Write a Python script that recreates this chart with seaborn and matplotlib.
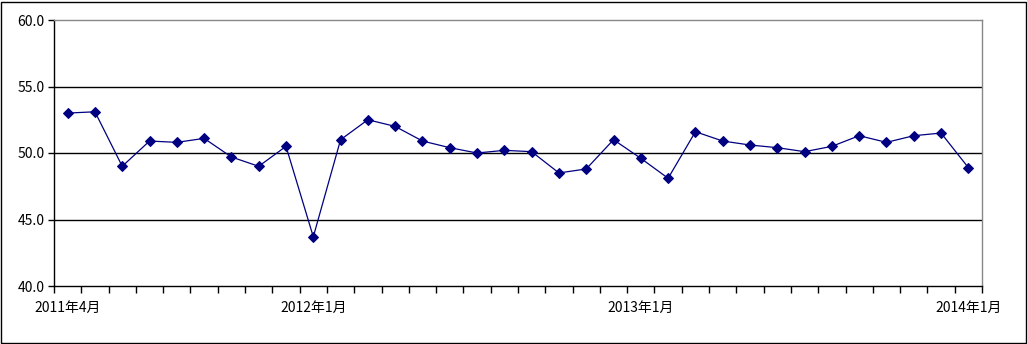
import numpy as np
import pandas as pd
import matplotlib
matplotlib.use("Agg")
import matplotlib.pyplot as plt
import seaborn as sns
from matplotlib.patches import Rectangle

# ---- data ----
months = (
    [f"2011年{m}月" for m in range(4, 13)]
    + [f"2012年{m}月" for m in range(1, 13)]
    + [f"2013年{m}月" for m in range(1, 13)]
    + ["2014年1月"]
)
values = [53.0, 53.1, 49.0, 50.9, 50.8, 51.1, 49.7, 49.0, 50.5,
          43.7, 51.0, 52.5, 52.0, 50.9, 50.4, 50.0, 50.2, 50.1, 48.5, 48.8, 51.0,
          49.6, 48.1, 51.6, 50.9, 50.6, 50.4, 50.1, 50.5, 51.3, 50.8, 51.3, 51.5,
          48.9]
shown_labels = ["2011年4月", "2012年1月", "2013年1月", "2014年1月"]
y_ticks = [40, 45, 50, 55, 60]

df = pd.DataFrame({"month": months, "value": values})
df["pos"] = np.arange(len(df))

sns.set_theme(style="white")
plt.rcParams["font.family"] = ["Noto Sans CJK SC", "DejaVu Sans"]

fig = plt.figure(figsize=(10.27, 3.44), dpi=100)
ax = fig.add_axes([54 / 1027, 1 - 286 / 344, (982 - 54) / 1027, (286 - 20) / 344])

for y in y_ticks[1:-1]:
    ax.axhline(y, color="black", lw=1.0, zorder=1)

sns.lineplot(data=df, x="pos", y="value", ax=ax, color="#000080", lw=0.9,
             marker="D", markersize=5, markeredgecolor="#000080", zorder=3)

ax.set_xlim(-0.5, len(df) - 0.5)
ax.set_ylim(40, 60)
ax.set_yticks(y_ticks)
ax.set_yticklabels([f"{v:.1f}" for v in y_ticks])

label_pos = [months.index(l) for l in shown_labels]
ax.set_xticks(label_pos)
ax.set_xticklabels(shown_labels)
ax.set_xticks(np.arange(-0.5, len(df)), minor=True)
ax.tick_params(axis="x", which="major", length=0, pad=11, labelsize=10, colors="black")
ax.tick_params(axis="x", which="minor", length=5, width=1, color="black", direction="out", bottom=True)
ax.tick_params(axis="y", which="major", length=4, width=1, color="black", direction="out",
               left=True, pad=3, labelsize=10, labelcolor="black")
ax.set_xlabel("")
ax.set_ylabel("")
ax.grid(False)

for side in ["left", "bottom"]:
    ax.spines[side].set_color("black")
    ax.spines[side].set_linewidth(1.0)
for side in ["top", "right"]:
    ax.spines[side].set_color("#888888")
    ax.spines[side].set_linewidth(1.0)

fig.patches.append(Rectangle((0.5 / 1027, 1.5 / 344), 1025 / 1027, 341 / 344,
                             transform=fig.transFigure, fill=False,
                             edgecolor="black", lw=1.0))

fig.savefig("out.png", dpi=100)
